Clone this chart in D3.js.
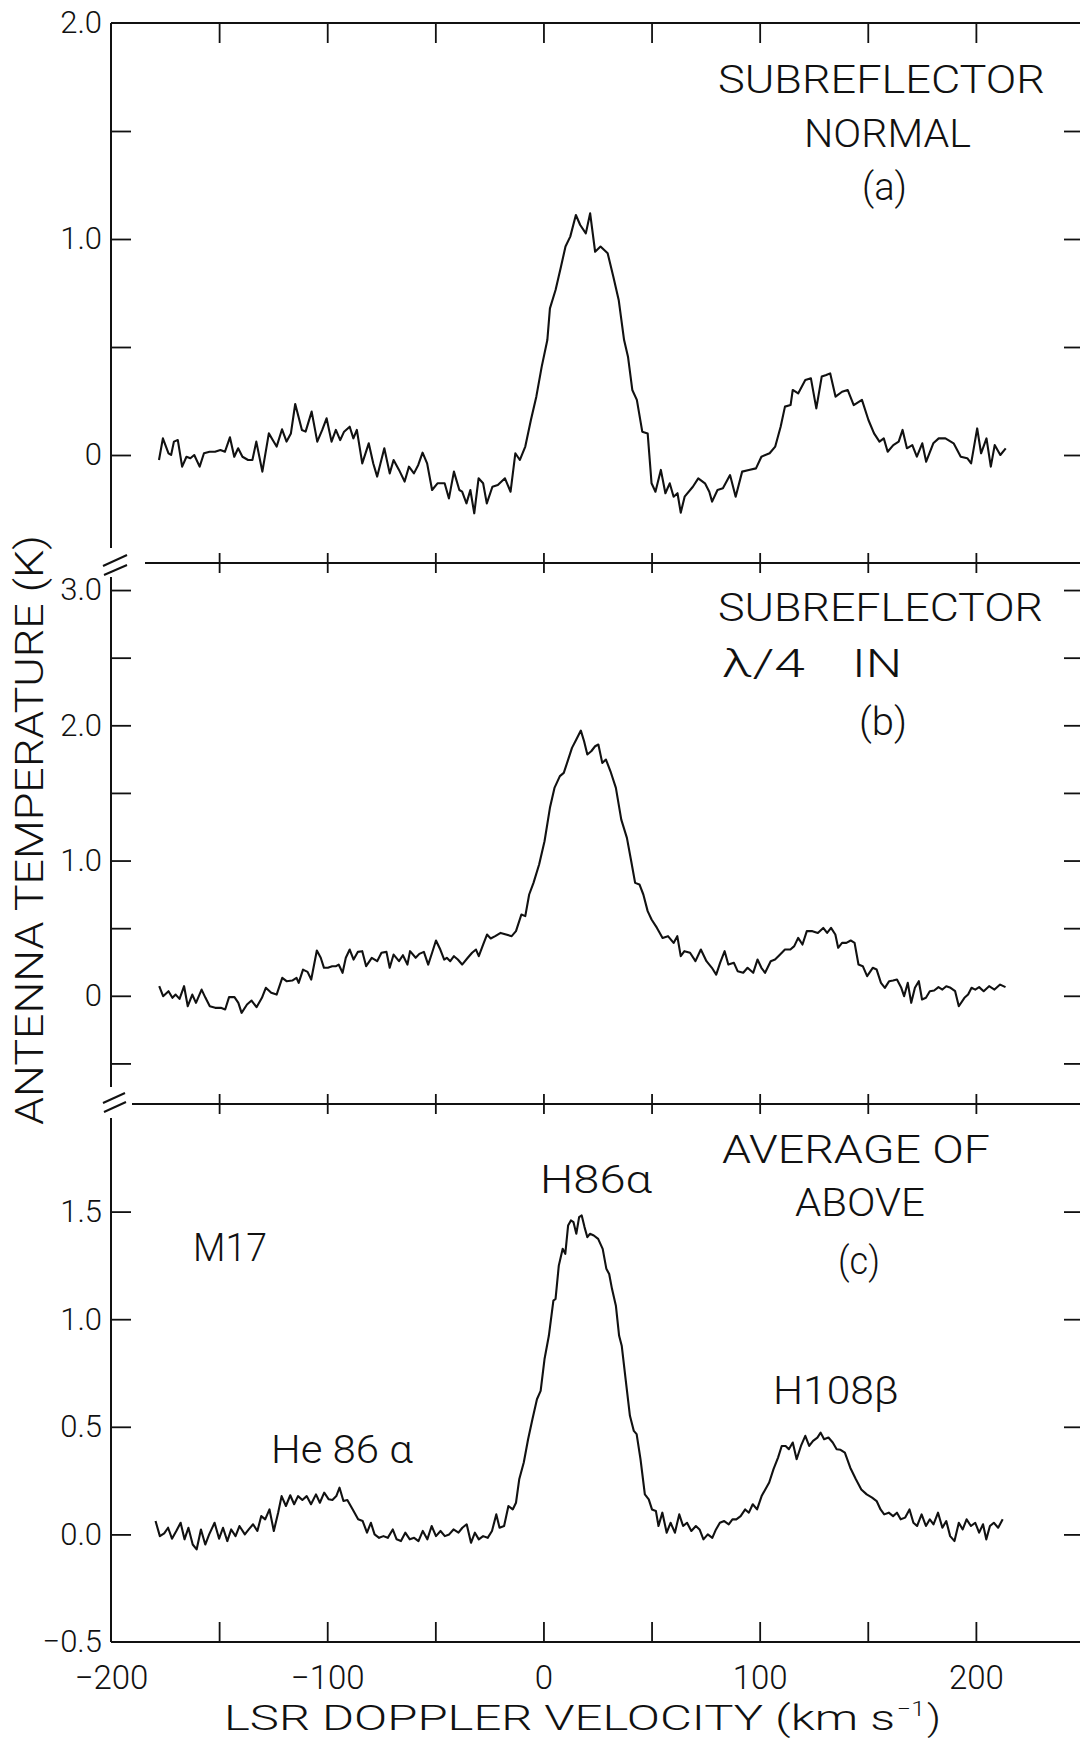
<!DOCTYPE html>
<html>
<head>
<meta charset="utf-8">
<script src="https://cdn.jsdelivr.net/npm/d3@7"></script>
<style>
  body { margin: 0; background: #fff; }
  svg { display: block; }
  text { font-family: Roboto, "Liberation Sans", sans-serif; font-weight: 300; fill: #111; }
</style>
</head>
<body>
<svg id="chart" width="1080" height="1739"></svg>
<script>
// M17 recombination-line spectra: velocity (km/s) and antenna temperature (K)

// (a) subreflector normal
const velA = [-177.8,-176.0,-173.4,-172.2,-170.9,-169.1,-167.1,-165.1,-163.3,-161.5,-159.0,-157.0,-154.4,-151.9,-149.4,-147.3,-145.0,-143.0,-141.2,-139.2,-136.6,-134.6,-132.8,-130.0,-127.0,-125.2,-123.4,-120.9,-118.8,-116.8,-114.8,-111.7,-110.0,-107.2,-104.6,-102.3,-100.3,-98.0,-96.0,-94.0,-92.2,-89.6,-87.9,-86.3,-83.8,-80.8,-78.7,-76.9,-73.6,-71.1,-69.3,-66.8,-64.2,-62.2,-59.9,-57.9,-55.9,-53.8,-51.5,-49.0,-45.7,-43.7,-41.4,-38.9,-37.6,-35.6,-33.8,-32.0,-30.0,-27.9,-26.2,-23.6,-21.1,-17.8,-15.2,-13.0,-10.9,-8.4,-5.8,-3.3,-0.8,1.8,3.0,5.6,8.1,10.2,12.4,15.0,17.0,19.6,21.6,23.9,26.4,29.7,32.3,34.8,37.3,39.1,41.1,43.2,45.7,48.2,50.0,51.8,54.3,56.4,58.4,60.2,62.0,63.5,65.3,69.1,71.6,74.7,76.7,78.0,80.5,83.0,86.3,88.9,91.9,95.0,98.3,100.8,104.6,107.2,109.7,111.7,114.3,115.3,117.8,121.1,123.7,126.2,128.7,130.8,132.6,135.1,138.1,140.7,143.5,147.3,150.3,152.9,155.4,157.4,159.2,161.8,164.3,166.1,168.1,170.6,172.7,175.2,177.0,180.3,182.8,185.9,189.7,193.0,196.0,197.8,200.6,202.4,204.9,206.9,208.7,211.3,213.8];
const tempA = [-0.023,0.077,0.008,0.0,0.062,0.069,-0.054,-0.008,-0.015,0.0,-0.054,0.008,0.015,0.015,0.023,0.015,0.082,-0.008,0.031,-0.008,-0.023,-0.023,0.062,-0.077,0.100,0.069,0.039,0.119,0.062,0.100,0.236,0.116,0.108,0.201,0.062,0.116,0.170,0.062,0.116,0.069,0.108,0.131,0.077,0.116,-0.039,0.054,-0.039,-0.100,0.031,-0.085,-0.023,-0.069,-0.123,-0.054,-0.085,-0.046,0.011,-0.039,-0.162,-0.131,-0.131,-0.201,-0.077,-0.162,-0.170,-0.224,-0.162,-0.270,-0.108,-0.131,-0.224,-0.147,-0.139,-0.108,-0.170,0.008,-0.023,0.039,0.162,0.270,0.409,0.532,0.679,0.764,0.872,0.965,1.011,1.111,1.065,1.026,1.119,0.941,0.965,0.934,0.826,0.718,0.532,0.455,0.301,0.255,0.108,0.100,-0.131,-0.170,-0.069,-0.177,-0.131,-0.193,-0.177,-0.267,-0.193,-0.147,-0.108,-0.131,-0.170,-0.216,-0.162,-0.154,-0.093,-0.193,-0.077,-0.069,-0.062,-0.008,0.008,0.039,0.131,0.224,0.231,0.301,0.285,0.347,0.355,0.216,0.363,0.370,0.378,0.270,0.293,0.301,0.231,0.255,0.162,0.100,0.062,0.077,0.015,0.046,0.062,0.116,0.031,0.046,-0.008,0.054,-0.031,0.054,0.077,0.077,0.054,-0.008,-0.015,-0.039,0.123,0.008,0.077,-0.054,0.046,0.0,0.031];

// (b) subreflector lambda/4 in
const velB = [-177.7,-175.9,-173.4,-171.6,-170.1,-168.3,-166.2,-164.5,-162.4,-160.7,-158.1,-156.3,-154.3,-151.8,-149.2,-147.2,-145.4,-142.9,-141.1,-139.6,-137.1,-135.0,-132.7,-130.2,-128.4,-125.9,-123.4,-120.8,-118.8,-116.2,-114.2,-113.2,-111.2,-109.1,-107.4,-104.8,-103.0,-101.5,-99.7,-97.7,-95.9,-94.7,-92.9,-91.4,-89.6,-87.8,-85.8,-83.8,-82.0,-79.4,-76.9,-74.9,-72.6,-71.1,-69.3,-66.8,-65.0,-62.9,-61.7,-59.1,-57.4,-55.3,-53.3,-51.5,-49.7,-47.7,-45.9,-44.7,-43.1,-41.4,-39.6,-37.6,-35.0,-33.0,-31.2,-29.9,-27.9,-26.1,-24.4,-22.3,-19.8,-17.3,-14.7,-12.7,-10.2,-8.4,-6.6,-4.6,-2.0,0.5,3.0,5.1,7.6,9.4,11.2,13.2,15.2,17.3,18.8,20.3,22.1,23.9,25.4,27.2,28.9,31.0,33.5,36.0,38.6,40.6,42.4,44.4,46.2,48.2,50.0,52.5,55.1,57.6,60.2,61.9,63.5,65.2,67.8,70.3,72.8,75.4,77.9,79.9,81.7,83.8,85.5,88.1,89.8,92.4,94.4,97.0,99.0,100.8,102.5,105.1,107.1,109.1,111.7,114.2,116.0,117.8,119.8,121.8,124.4,126.9,129.4,131.2,133.0,135.0,136.3,138.1,140.1,142.1,143.9,145.7,147.7,149.7,152.3,154.1,156.1,157.9,159.9,161.7,163.5,165.5,166.8,168.5,170.1,171.8,173.6,175.1,176.9,178.7,180.7,182.7,184.5,186.3,188.3,190.4,192.1,194.7,196.4,198.0,199.7,201.5,203.6,206.1,208.6,211.2,213.7];
const tempB = [0.071,-0.003,0.034,-0.015,0.009,-0.023,0.071,-0.077,0.009,-0.052,0.046,-0.015,-0.077,-0.089,-0.089,-0.101,-0.010,-0.010,-0.052,-0.126,-0.064,-0.035,-0.084,-0.015,0.059,0.022,0.009,0.133,0.108,0.113,0.133,0.096,0.194,0.177,0.120,0.335,0.281,0.207,0.207,0.219,0.219,0.231,0.170,0.281,0.342,0.268,0.325,0.330,0.219,0.281,0.256,0.318,0.325,0.207,0.305,0.256,0.300,0.231,0.330,0.281,0.310,0.325,0.231,0.318,0.409,0.342,0.268,0.281,0.256,0.293,0.268,0.231,0.281,0.318,0.342,0.293,0.379,0.453,0.424,0.441,0.465,0.453,0.441,0.478,0.601,0.589,0.749,0.835,0.971,1.143,1.390,1.537,1.624,1.648,1.735,1.833,1.895,1.961,1.882,1.784,1.808,1.845,1.858,1.722,1.747,1.660,1.537,1.303,1.168,0.995,0.835,0.823,0.749,0.626,0.564,0.502,0.428,0.441,0.391,0.441,0.293,0.330,0.318,0.256,0.342,0.256,0.207,0.157,0.244,0.330,0.231,0.244,0.182,0.170,0.207,0.170,0.268,0.207,0.170,0.256,0.268,0.300,0.342,0.342,0.367,0.428,0.379,0.478,0.478,0.465,0.502,0.465,0.502,0.453,0.355,0.391,0.391,0.409,0.391,0.231,0.219,0.145,0.207,0.194,0.096,0.059,0.108,0.113,0.120,0.059,-0.003,0.096,-0.052,0.059,0.108,-0.027,-0.015,0.034,0.039,0.064,0.046,0.071,0.059,0.034,-0.077,-0.015,0.009,0.059,0.046,0.064,0.034,0.071,0.046,0.083,0.064];

// (c) average of (a) and (b)
const velC = [-179.4,-177.4,-175.4,-173.6,-171.8,-169.8,-167.8,-166.0,-164.2,-162.2,-160.4,-158.4,-156.4,-154.6,-152.1,-150.0,-148.2,-146.2,-144.4,-142.4,-140.6,-138.1,-136.3,-134.3,-132.3,-130.5,-128.7,-126.7,-124.7,-122.7,-121.1,-119.1,-117.1,-115.3,-113.5,-111.5,-109.5,-107.5,-105.2,-103.4,-101.4,-99.3,-97.6,-95.8,-94.3,-92.5,-90.7,-88.2,-85.7,-83.6,-81.6,-79.8,-78.1,-76.0,-74.0,-72.0,-69.7,-67.9,-65.9,-63.9,-61.8,-59.8,-57.8,-55.8,-53.7,-51.7,-49.7,-47.6,-45.6,-43.6,-41.6,-39.3,-37.5,-35.5,-33.5,-31.7,-29.9,-27.9,-25.8,-23.8,-21.8,-20.3,-18.2,-16.2,-14.2,-12.7,-11.2,-9.1,-7.1,-5.1,-3.0,-1.3,0.5,2.5,4.6,5.6,7.1,8.9,10.1,11.4,12.7,13.9,15.2,16.5,17.7,19.0,20.3,21.5,23.3,25.3,27.4,29.1,30.4,31.7,33.5,35.0,36.2,38.0,40.0,41.8,43.1,44.9,46.9,48.7,50.2,52.0,53.2,55.0,57.0,58.8,60.8,62.8,64.6,66.4,68.4,70.5,72.2,74.0,76.0,78.1,79.8,81.6,83.6,85.7,87.4,89.2,91.2,93.3,95.0,96.8,98.8,100.9,102.6,104.4,106.4,108.5,110.2,112.0,113.5,115.3,117.1,119.1,121.1,122.9,124.7,126.7,128.2,129.8,131.8,133.8,135.6,137.4,139.4,141.9,144.5,147.0,149.5,152.0,154.1,155.9,157.6,159.7,161.7,163.5,165.2,167.3,169.3,171.1,172.8,174.9,176.9,178.7,180.4,182.5,184.5,186.3,188.1,190.1,192.1,193.9,195.7,197.7,199.7,201.5,203.3,204.8,206.5,208.3,210.3,212.4];
const tempC = [0.062,-0.008,0.005,0.031,-0.020,0.016,0.054,-0.023,0.031,-0.047,-0.070,0.023,-0.047,0.0,0.054,-0.020,0.031,-0.031,0.023,-0.008,0.039,0.0,0.023,0.047,0.016,0.085,0.070,0.116,0.016,0.101,0.178,0.132,0.182,0.140,0.178,0.160,0.178,0.140,0.186,0.147,0.194,0.163,0.160,0.178,0.217,0.155,0.160,0.116,0.070,0.062,0.008,0.054,0.0,-0.016,-0.008,-0.016,0.023,-0.023,-0.031,0.008,-0.023,-0.016,-0.031,0.016,-0.023,0.039,-0.008,0.016,-0.008,0.0,0.023,0.008,0.031,0.047,-0.039,0.008,-0.023,-0.008,-0.016,0.016,0.093,0.031,0.039,0.132,0.116,0.147,0.256,0.334,0.442,0.535,0.628,0.667,0.815,0.923,1.086,1.094,1.249,1.327,1.304,1.435,1.459,1.451,1.397,1.474,1.482,1.428,1.381,1.397,1.389,1.373,1.327,1.234,1.210,1.141,1.063,0.923,0.877,0.722,0.551,0.481,0.466,0.349,0.186,0.163,0.116,0.109,0.039,0.101,0.008,0.054,0.008,0.093,0.039,0.054,0.016,0.039,0.023,-0.023,0.0,-0.016,0.023,0.054,0.062,0.047,0.070,0.070,0.085,0.116,0.101,0.140,0.116,0.178,0.209,0.241,0.303,0.357,0.411,0.411,0.396,0.427,0.349,0.411,0.458,0.411,0.435,0.450,0.473,0.442,0.450,0.427,0.396,0.393,0.380,0.310,0.256,0.209,0.186,0.171,0.155,0.116,0.093,0.101,0.085,0.101,0.070,0.078,0.116,0.054,0.039,0.093,0.039,0.070,0.047,0.101,0.031,0.062,-0.008,-0.031,0.054,0.023,0.070,0.039,0.054,0.008,0.047,-0.023,0.039,0.054,0.031,0.070];

// axis ticks and labels
const xTickVals = [-150,-100,-50,0,50,100,150,200];
const xLabelVals = [-200,-100,0,100,200];
const xLabelText = ["\u2212200","\u2212100","0","100","200"];
const yTicksA = [0,0.5,1.0,1.5];
const yLabelValsA = [0,1,2];
const yLabelTextA = ["0","1.0","2.0"];
const yTicksB = [-0.5,0,0.5,1.0,1.5,2.0,2.5,3.0];
const yLabelValsB = [0,1,2,3];
const yLabelTextB = ["0","1.0","2.0","3.0"];
const yTicksC = [0,0.5,1.0,1.5];
const yLabelValsC = [-0.5,0,0.5,1.0,1.5];
const yLabelTextC = ["\u22120.5","0.0","0.5","1.0","1.5"];

const INK = "#111";
const svg = d3.select("#chart");

const x = d3.scaleLinear().domain([-200, 250]).range([111, 1084]);
const xL = x(-200), xR = x(250);

const panels = [
  { vel: velA, temp: tempA, y: d3.scaleLinear().domain([-0.5, 2.0]).range([563, 23]),
    ticks: yTicksA, labelVals: yLabelValsA, labelText: yLabelTextA },
  { vel: velB, temp: tempB, y: d3.scaleLinear().domain([-0.8, 3.2]).range([1104, 563]),
    ticks: yTicksB, labelVals: yLabelValsB, labelText: yLabelTextB },
  { vel: velC, temp: tempC, y: d3.scaleLinear().domain([-0.5, 2.0]).range([1642, 1104]),
    ticks: yTicksC, labelVals: yLabelValsC, labelText: yLabelTextC }
];

function styleAxis(g, fontSize) {
  g.select(".domain").remove();
  g.selectAll(".tick line").attr("stroke", INK).attr("stroke-width", 1.8);
  g.selectAll(".tick text").attr("fill", INK)
    .style("font-size", fontSize + "px")
    .style("font-family", 'Roboto, "Liberation Sans", sans-serif')
    .style("font-weight", 300);
}

// frame lines
const frame = svg.append("g").attr("stroke", INK).attr("stroke-width", 2).attr("fill", "none");
const seg = (x1, y1, x2, y2) => frame.append("line").attr("x1", x1).attr("y1", y1).attr("x2", x2).attr("y2", y2);
seg(xL, 23, xR, 23);            // top
seg(xL, 1642, xR, 1642);        // bottom
seg(145, 563, xR, 563);         // between (a) and (b)
seg(132, 1104, xR, 1104);       // between (b) and (c)
seg(xL, 23, xL, 548);           // left, panel a
seg(xL, 577, xL, 1087);         // left, panel b
seg(xL, 1118, xL, 1642);        // left, panel c
seg(xR, 23, xR, 1642);          // right
// axis break marks
seg(103, 566, 127, 555); seg(104, 575, 127, 565);
seg(103, 1103, 125, 1093); seg(104, 1112, 126, 1102);

// velocity ticks
svg.append("g").attr("transform", "translate(0,23)")
  .call(d3.axisTop(x).tickValues(xTickVals).tickSize(-20).tickFormat(""))
  .call(g => styleAxis(g, 10));
svg.append("g").attr("transform", "translate(0,1642)")
  .call(d3.axisBottom(x).tickValues(xTickVals).tickSize(-20).tickFormat(""))
  .call(g => styleAxis(g, 10));
[553, 1094].forEach(yy => {
  svg.append("g").attr("transform", `translate(0,${yy})`)
    .call(d3.axisBottom(x).tickValues(xTickVals).tickSize(20).tickFormat(""))
    .call(g => styleAxis(g, 10));
});
svg.append("g").attr("transform", "translate(0,1642)")
  .call(d3.axisBottom(x).tickValues(xLabelVals).tickSize(0).tickPadding(24)
        .tickFormat((d, i) => xLabelText[i]))
  .call(g => styleAxis(g, 33));

// temperature ticks, labels and spectra
const line = d3.line().curve(d3.curveLinear);
panels.forEach(p => {
  svg.append("g").attr("transform", `translate(${xL},0)`)
    .call(d3.axisLeft(p.y).tickValues(p.ticks).tickSize(-20).tickFormat(""))
    .call(g => styleAxis(g, 10));
  svg.append("g").attr("transform", `translate(${xR},0)`)
    .call(d3.axisRight(p.y).tickValues(p.ticks).tickSize(-20).tickFormat(""))
    .call(g => styleAxis(g, 10));
  svg.append("g").attr("transform", `translate(${xL},0)`)
    .call(d3.axisLeft(p.y).tickValues(p.labelVals).tickSize(0).tickPadding(9)
          .tickFormat((d, i) => p.labelText[i]))
    .call(g => styleAxis(g, 31));

  const pts = p.vel.map((v, i) => [x(v), p.y(p.temp[i])]);
  svg.append("path").attr("d", line(pts))
    .attr("fill", "none").attr("stroke", INK)
    .attr("stroke-width", 2.1).attr("stroke-linejoin", "round");
});

// annotations
function label(txt, x0, y0, size, len) {
  const t = svg.append("text").attr("x", x0).attr("y", y0)
    .style("font-size", size + "px").text(txt);
  if (len) t.attr("textLength", len).attr("lengthAdjust", "spacingAndGlyphs");
  return t;
}
label("SUBREFLECTOR", 718, 93, 39, 327);
label("NORMAL", 804, 147, 39, 167);
label("(a)", 862, 200, 39, 45);
label("SUBREFLECTOR", 718, 621, 39, 325);
label("\u03bb/4", 722, 677, 39, 83);
label("IN", 852, 677, 39, 50);
label("(b)", 859, 735, 39, 48);
label("AVERAGE OF", 722, 1163, 39, 268);
label("ABOVE", 795, 1216, 39, 130);
label("(c)", 838, 1274, 39, 42);
label("M17", 193, 1261, 39, 74);
label("H86\u03b1", 540, 1193, 39, 112);
label("He 86 \u03b1", 271, 1463, 39, 142);
label("H108\u03b2", 773, 1404, 39, 126);

// axis titles
label("LSR DOPPLER VELOCITY (km s", 224, 1730, 35, 671);
label("\u22121", 897, 1716, 21, 28);
label(")", 927, 1730, 35, 14);
svg.append("text")
  .attr("transform", "translate(43,830) rotate(-90)")
  .attr("text-anchor", "middle")
  .attr("textLength", 590).attr("lengthAdjust", "spacingAndGlyphs")
  .style("font-size", "39px")
  .text("ANTENNA TEMPERATURE (K)");
</script>
</body>
</html>
